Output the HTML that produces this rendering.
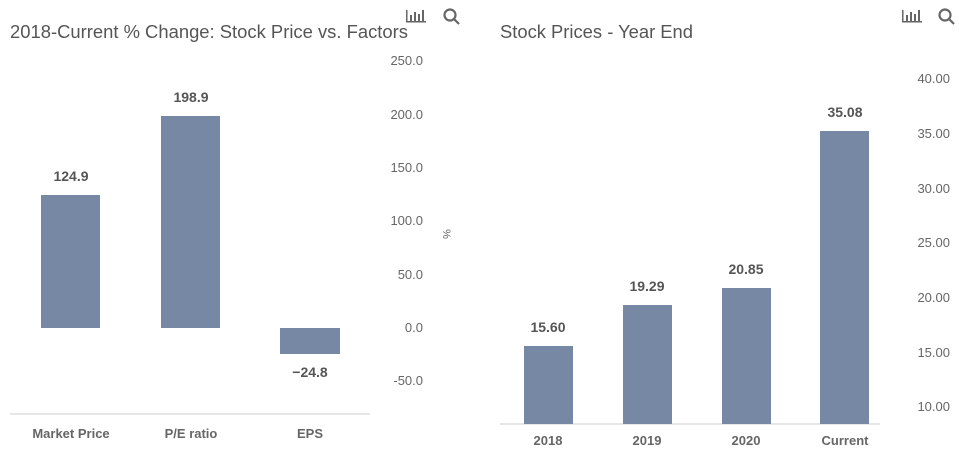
<!DOCTYPE html><html><head><style>body{margin:0;background:#fff}svg{display:block}text{font-family:"Liberation Sans",Arial,sans-serif}</style></head><body>
<svg width="959" height="453" xmlns="http://www.w3.org/2000/svg">
<text x="10" y="38" font-size="18" fill="#555" textLength="398" lengthAdjust="spacingAndGlyphs">2018-Current % Change: Stock Price vs. Factors</text>
<text x="500" y="38" font-size="18" fill="#555" textLength="193" lengthAdjust="spacingAndGlyphs">Stock Prices - Year End</text>
<g fill="#666" font-size="13">
<g transform="translate(406,10)"><rect x="0" y="0" width="1.5" height="11"/><rect x="4" y="5" width="2" height="6"/><rect x="8" y="2" width="2" height="9"/><rect x="12" y="4" width="2" height="7"/><rect x="16" y="0" width="2" height="11"/><rect x="0" y="11" width="20" height="1.5"/></g>
<g transform="translate(902,10)"><rect x="0" y="0" width="1.5" height="11"/><rect x="4" y="5" width="2" height="6"/><rect x="8" y="2" width="2" height="9"/><rect x="12" y="4" width="2" height="7"/><rect x="16" y="0" width="2" height="11"/><rect x="0" y="11" width="20" height="1.5"/></g>
</g>
<g fill="none" stroke="#666" stroke-width="2.2"><circle cx="450" cy="15" r="5.5"/><line x1="454" y1="19" x2="459" y2="24"/><circle cx="945" cy="15" r="5.5"/><line x1="949" y1="19" x2="954" y2="24"/></g>
<g font-size="13" fill="#666" text-anchor="end">
<text x="423" y="65">250.0</text><text x="423" y="119">200.0</text><text x="423" y="172">150.0</text><text x="423" y="225">100.0</text><text x="423" y="279">50.0</text><text x="423" y="332">0.0</text><text x="423" y="385">-50.0</text>
<text x="950" y="83">40.00</text><text x="950" y="138">35.00</text><text x="950" y="193">30.00</text><text x="950" y="247">25.00</text><text x="950" y="302">20.00</text><text x="950" y="357">15.00</text><text x="950" y="411">10.00</text>
</g>
<text x="443" y="234" font-size="11" fill="#666" transform="rotate(90 443 234)" text-anchor="middle">%</text>
<line x1="10" y1="414" x2="370" y2="414" stroke="#ddd" stroke-width="1.5"/>
<line x1="500" y1="424" x2="880" y2="424" stroke="#ddd" stroke-width="1.5"/>
<g fill="#7788a5">
<rect x="41" y="195" width="59" height="133"/><rect x="161" y="116" width="59" height="212"/><rect x="280" y="328" width="60" height="26"/>
<rect x="524" y="346" width="49" height="78"/><rect x="623" y="305" width="49" height="119"/><rect x="722" y="288" width="49" height="136"/><rect x="820" y="131" width="49" height="293"/>
</g>
<g font-size="14" font-weight="bold" fill="#555" text-anchor="middle">
<text x="71" y="181">124.9</text><text x="191" y="102">198.9</text><text x="310" y="377">−24.8</text>
<text x="548" y="332">15.60</text><text x="647" y="291">19.29</text><text x="746" y="274">20.85</text><text x="845" y="117">35.08</text>
</g>
<g font-size="13" font-weight="bold" fill="#666" text-anchor="middle">
<text x="71" y="438">Market Price</text><text x="191" y="438">P/E ratio</text><text x="310" y="438">EPS</text>
<text x="548" y="445">2018</text><text x="647" y="445">2019</text><text x="746" y="445">2020</text><text x="845" y="445">Current</text>
</g>
</svg></body></html>
